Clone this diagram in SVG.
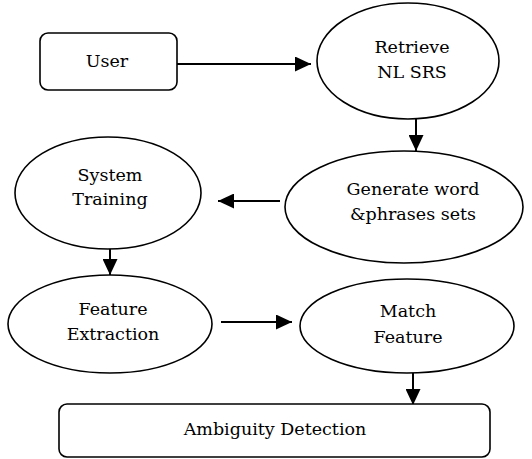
<svg xmlns="http://www.w3.org/2000/svg" width="532" height="459" viewBox="0 0 532 459">
<style>
.n{fill:#fff;stroke:#000;stroke-width:1.6}
.t{font-family:'DejaVu Serif','Noto Serif',serif;font-size:17.5px;fill:#000;text-anchor:middle}
.c{stroke:#000;stroke-width:2;fill:none}
</style>
<defs>
<marker id="a" markerWidth="16" markerHeight="15" refX="16" refY="7.5" orient="auto" markerUnits="userSpaceOnUse">
<path d="M0,0 L16,7.5 L0,15 Z" fill="#000"/>
</marker>
</defs>
<rect width="532" height="459" fill="#fff"/>
<g id="connectors">
<line class="c" x1="177" y1="64" x2="311" y2="64" marker-end="url(#a)"/>
<line class="c" x1="416" y1="119" x2="416" y2="151" marker-end="url(#a)"/>
<line class="c" x1="280" y1="201" x2="218" y2="201" marker-end="url(#a)"/>
<line class="c" x1="110" y1="240" x2="110" y2="275" marker-end="url(#a)"/>
<line class="c" x1="221" y1="322" x2="292" y2="322" marker-end="url(#a)"/>
<line class="c" x1="413" y1="373" x2="413" y2="405" marker-end="url(#a)"/>
</g>
<g id="user">
<rect class="n" x="40" y="33" width="137" height="57" rx="8"/>
<text class="t" x="107" y="67">User</text>
</g>
<g id="retrieve">
<ellipse class="n" cx="408" cy="61" rx="91" ry="58"/>
<text class="t" x="412" y="53">Retrieve</text>
<text class="t" x="412" y="78">NL SRS</text>
</g>
<g id="generate">
<ellipse class="n" cx="404" cy="207" rx="119" ry="56"/>
<text class="t" x="413" y="195">Generate word</text>
<text class="t" x="413" y="220">&amp;phrases sets</text>
</g>
<g id="system">
<ellipse class="n" cx="108" cy="193" rx="93" ry="56"/>
<text class="t" x="110" y="181">System</text>
<text class="t" x="110" y="205">Training</text>
</g>
<g id="feature">
<ellipse class="n" cx="110" cy="324" rx="102" ry="49"/>
<text class="t" x="113" y="315">Feature</text>
<text class="t" x="113" y="340">Extraction</text>
</g>
<g id="match">
<ellipse class="n" cx="407" cy="326" rx="107" ry="47"/>
<text class="t" x="408" y="317">Match</text>
<text class="t" x="408" y="343">Feature</text>
</g>
<g id="ambiguity">
<rect class="n" x="59" y="404" width="431" height="53" rx="8"/>
<text class="t" x="275" y="435">Ambiguity Detection</text>
</g>
</svg>
